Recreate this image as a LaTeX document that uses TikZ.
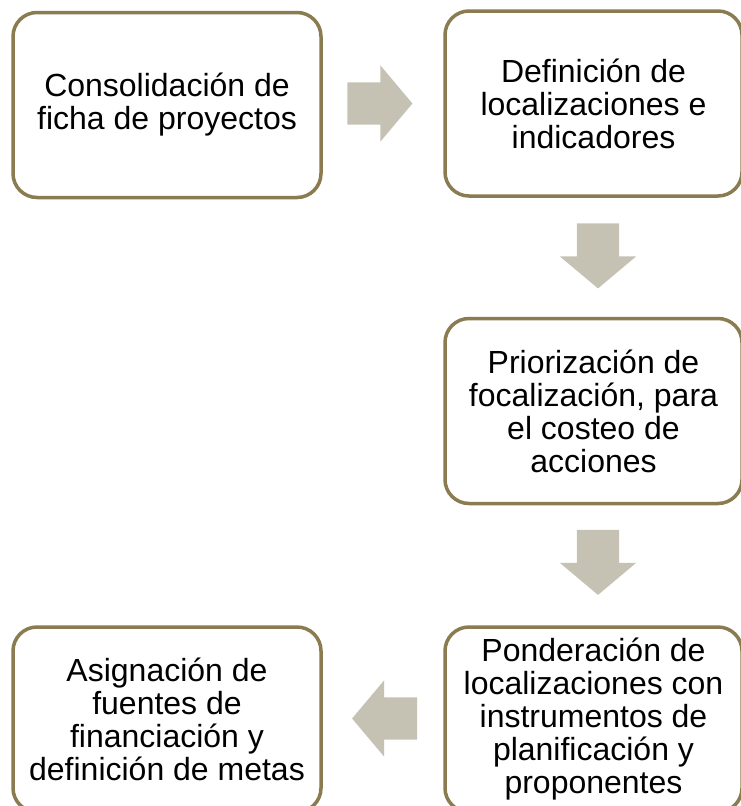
\documentclass[tikz,border=0pt]{standalone}
\usepackage{fontspec}
\setmainfont{Liberation Sans}
\usetikzlibrary{shapes.arrows}
\definecolor{OliveBorder}{RGB}{138,123,80}
\definecolor{StoneGray}{RGB}{197,194,180}
\tikzset{
  stepbox/.style={draw=OliveBorder,fill=white,line width=3.5pt,rounded corners=24pt,
    minimum height=185pt,align=center,inner sep=0pt,
    font=\fontsize{32}{33}\selectfont},
  leftbox/.style={stepbox,minimum width=308pt},
  rightbox/.style={stepbox,minimum width=297pt},
  blockarrow/.style={single arrow,fill=StoneGray,draw=none,inner xsep=0pt,
    inner ysep=21pt,text height=0pt,text depth=0pt,outer sep=0pt,
    minimum height=65pt,single arrow head extend=17pt,
    single arrow tip angle=100,single arrow head indent=0pt}
}
\begin{document}
\begin{tikzpicture}[x=1pt,y=-1pt]
\clip (0,0) rectangle (741,806);
\fill[white] (0,0) rectangle (741,806);

\node[leftbox] (consolidacion) at (167,105)
  {Consolidación de\\ficha de proyectos};
\node[rightbox] (definicion) at (593.5,103.5)
  {Definición de\\localizaciones e\\indicadores};
\node[rightbox] (priorizacion) at (593.5,411)
  {Priorización de\\focalización, para\\el costeo de\\acciones};
\node[rightbox] (ponderacion) at (593.5,719.5)
  {Ponderación de\\localizaciones con\\instrumentos de\\planificación y\\proponentes};
\node[leftbox] (asignacion) at (167,719.5)
  {Asignación de\\fuentes de\\financiación y\\definición de metas};

% flechas entre pasos
\node[blockarrow] (f1) at (371,103.5) {};
\node[blockarrow,rotate=-90] (f2) at (598,247) {};
\node[blockarrow,rotate=-90] (f3) at (598,553.5) {};
\node[blockarrow,shape border rotate=180] (f4) at (393.5,718.5) {};

\end{tikzpicture}
\end{document}
